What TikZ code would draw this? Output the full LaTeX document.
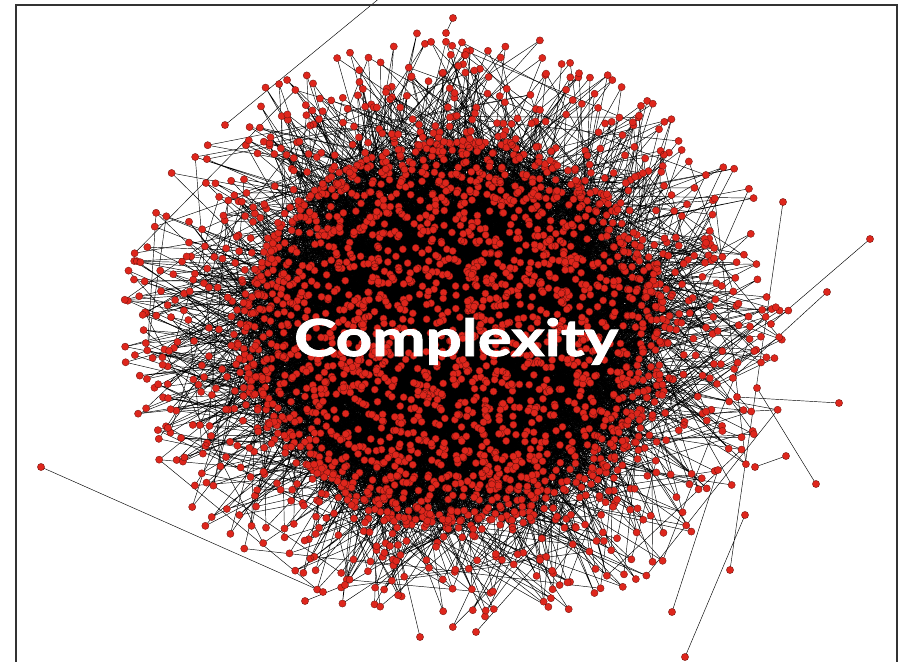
\documentclass[tikz,border=0pt]{standalone}
\usepackage{fontspec}
\usepackage{tikz}
\newfontfamily\titlefont{Lato}[FakeStretch=1.25,BoldFeatures={FakeBold=1.8}]

\begin{document}
\begin{tikzpicture}[x=1pt,y=-1pt]
  % Colors
  \definecolor{dotfill}{RGB}{222,38,28}
  \colorlet{dotedge}{dotfill!50!black}
  \colorlet{linkcolor}{black}
  \colorlet{framecolor}{black!80}

  % Styles
  \tikzstyle{dot}=[fill=dotfill,draw=dotedge,line width=0.35pt]
  \tikzstyle{link}=[draw=linkcolor,line width=0.45pt]
  \tikzstyle{title text}=[text=white,font=\titlefont\bfseries\fontsize{51}{53}\selectfont,anchor=base]

  \useasboundingbox (0,0) rectangle (906,662);
  \pgfmathsetseed{1207}

  % dense core
  \foreach \i in {1,...,1900} {
    \pgfmathsetmacro{\r}{205*sqrt(rnd)}
    \pgfmathsetmacro{\a}{360*rnd}
    \coordinate (n\i) at ({455+1.05*\r*cos(\a)},{335+0.95*\r*sin(\a)});
  }
  % loose ring
  \foreach \i in {1901,...,2800} {
    \pgfmathsetmacro{\r}{192+130*rnd^1.3}
    \pgfmathsetmacro{\a}{360*rnd}
    \coordinate (n\i) at ({455+1.04*\r*cos(\a)},{330+0.93*\r*sin(\a)});
  }

  % stragglers
  \coordinate (o1) at (41,467);   \coordinate (o1b) at (323,592);
  \coordinate (o2) at (870,239);  \coordinate (o2b) at (771,324);
  \coordinate (o3) at (827,292);  \coordinate (o3b) at (733,378);
  \coordinate (o4) at (839,403);  \coordinate (o4b) at (737,397);
  \coordinate (o5) at (816,484);  \coordinate (o5b) at (757,388);
  \coordinate (o6) at (786,456);  \coordinate (o6b) at (755,467);
  \coordinate (o7) at (783,202);  \coordinate (o7b) at (730,570);
  \coordinate (o8) at (685,657);  \coordinate (o8b) at (745,515);
  \coordinate (o9) at (672,612);  \coordinate (o9b) at (718,470);
  \coordinate (o10) at (420,637); \coordinate (o10b) at (398,545);
  \coordinate (o11) at (476,632); \coordinate (o11b) at (540,560);
  \coordinate (o12) at (453,18);  \coordinate (o12b) at (446,33);
  \coordinate (o13) at (305,601); \coordinate (o13b) at (345,585);
  \coordinate (o14) at (225,125);
  \coordinate (away) at (392,-12);

  % links, in chunks of 100
  \foreach \b in {0,...,49} {
    \draw[link] \foreach \k [evaluate=\k as \p using {int(random(1,1900))},
                              evaluate=\k as \q using {int(random(1,1900))}] in {1,...,100} {(n\p) -- (n\q)};
  }
  \foreach \b in {19,...,27} {
    \draw[link] \foreach \k [evaluate=\k as \i using {int(\b*100+\k)},
                              evaluate=\k as \q using {int(random(1,2800))},
                              evaluate=\k as \t using {int(random(1,1900))}] in {1,...,100} {(n\i) -- (n\q) (n\i) -- (n\t)};
  }
  \draw[link] \foreach \s in {1,...,13} {(o\s) -- (o\s b)} (o14) -- (away);

  % dots, in chunks of 100
  \foreach \b in {0,...,27} {
    \path[dot] \foreach \k [evaluate=\k as \i using {int(\b*100+\k)}] in {1,...,100} {(n\i) circle[radius=3.6pt]};
  }
  \path[dot] \foreach \s in {1,...,13} {(o\s) circle[radius=3.6pt] (o\s b) circle[radius=3.6pt]}
    (o14) circle[radius=3.6pt];

  \node[title text] (title) at (456,356) {Complexity};

  % frame
  \draw[framecolor,line width=1.4pt] (16,662) -- (16,5) -- (897,5) -- (897,662);
\end{tikzpicture}
\end{document}
